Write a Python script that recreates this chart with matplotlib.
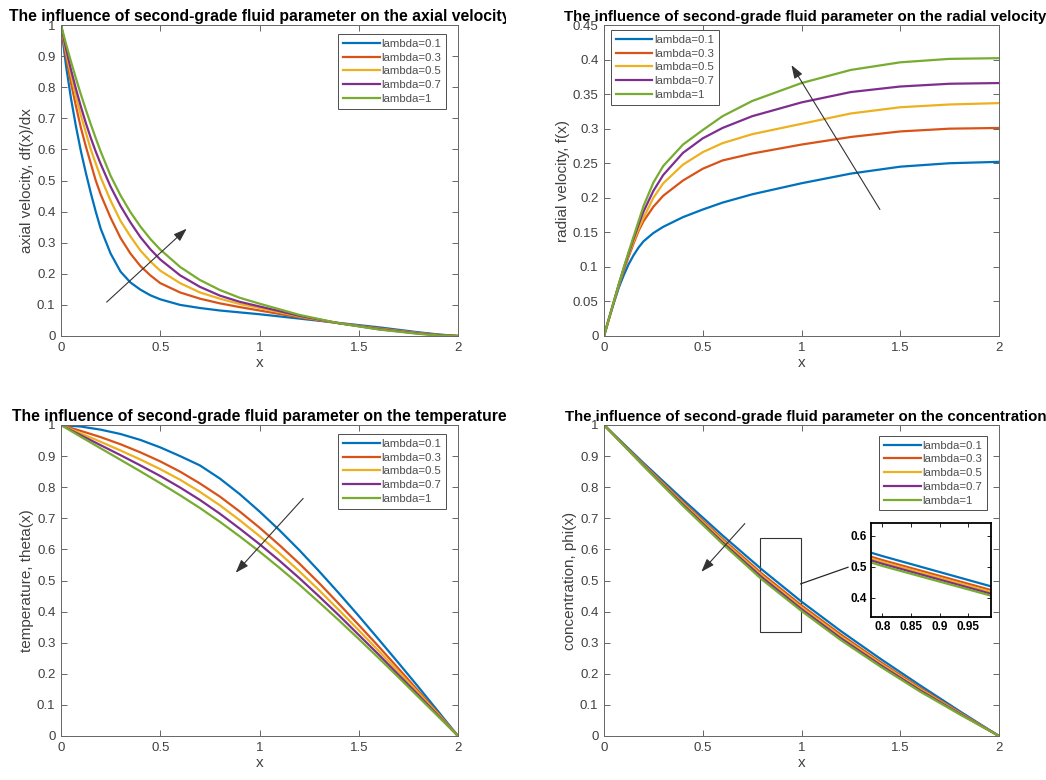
import matplotlib
matplotlib.use("Agg")
import matplotlib.pyplot as plt
from matplotlib.ticker import FuncFormatter
from matplotlib.transforms import Bbox, TransformedBbox
from matplotlib.patches import Rectangle, ConnectionPatch

plt.rcParams['font.family'] = ['Liberation Sans', 'DejaVu Sans']

labels = ['lambda=0.1', 'lambda=0.3', 'lambda=0.5', 'lambda=0.7', 'lambda=1']
colors = ['#0072BD', '#D95319', '#EDB120', '#7E2F8E', '#77AC30']

# axial velocity df/dx
x_ax = [0, 0.025, 0.05, 0.075, 0.1, 0.125, 0.15, 0.175, 0.2, 0.25, 0.3, 0.35, 0.4, 0.45, 0.5,
        0.6, 0.7, 0.8, 0.9, 1.0, 1.2, 1.4, 1.6, 1.8, 1.9, 2.0]
axial = [
    [1.0, 0.87, 0.765, 0.675, 0.595, 0.525, 0.46, 0.4, 0.345, 0.265, 0.207, 0.172, 0.149, 0.131, 0.118,
     0.1, 0.09, 0.082, 0.076, 0.07, 0.056, 0.042, 0.028, 0.012, 0.005, 0.0],
    [1.0, 0.9, 0.815, 0.74, 0.67, 0.61, 0.555, 0.5, 0.455, 0.38, 0.315, 0.265, 0.225, 0.195, 0.17,
     0.14, 0.12, 0.105, 0.093, 0.082, 0.06, 0.041, 0.025, 0.01, 0.004, 0.0],
    [1.0, 0.915, 0.84, 0.77, 0.71, 0.655, 0.6, 0.555, 0.51, 0.435, 0.37, 0.32, 0.275, 0.24, 0.21,
     0.17, 0.14, 0.12, 0.103, 0.09, 0.063, 0.041, 0.023, 0.009, 0.003, 0.0],
    [1.0, 0.925, 0.857, 0.795, 0.738, 0.685, 0.637, 0.593, 0.553, 0.48, 0.418, 0.365, 0.318, 0.279, 0.246,
     0.195, 0.158, 0.13, 0.11, 0.095, 0.065, 0.041, 0.022, 0.008, 0.003, 0.0],
    [1.0, 0.94, 0.883, 0.829, 0.777, 0.728, 0.681, 0.636, 0.593, 0.515, 0.452, 0.398, 0.352, 0.312, 0.278,
     0.222, 0.18, 0.148, 0.123, 0.104, 0.068, 0.041, 0.021, 0.007, 0.002, 0.0],
]

# radial velocity f
x_rad = [0, 0.025, 0.05, 0.075, 0.1, 0.125, 0.15, 0.175, 0.2, 0.25, 0.3, 0.4, 0.5, 0.6, 0.75,
         1.0, 1.25, 1.5, 1.75, 2.0]
radial = [
    [0, 0.025, 0.048, 0.07, 0.088, 0.104, 0.117, 0.128, 0.137, 0.149, 0.158, 0.172, 0.183, 0.193, 0.205,
     0.221, 0.235, 0.245, 0.25, 0.252],
    [0, 0.025, 0.049, 0.073, 0.095, 0.115, 0.134, 0.152, 0.166, 0.187, 0.203, 0.225, 0.242, 0.254, 0.264,
     0.277, 0.288, 0.296, 0.3, 0.301],
    [0, 0.025, 0.05, 0.074, 0.097, 0.118, 0.137, 0.155, 0.171, 0.2, 0.221, 0.248, 0.266, 0.279, 0.292,
     0.307, 0.322, 0.331, 0.335, 0.337],
    [0, 0.025, 0.05, 0.075, 0.098, 0.12, 0.141, 0.161, 0.18, 0.21, 0.233, 0.265, 0.286, 0.301, 0.318,
     0.338, 0.353, 0.361, 0.365, 0.366],
    [0, 0.025, 0.05, 0.075, 0.099, 0.122, 0.144, 0.166, 0.188, 0.222, 0.246, 0.277, 0.298, 0.318, 0.34,
     0.366, 0.385, 0.396, 0.401, 0.402],
]

# temperature theta
x_tmp = [0, 0.1, 0.2, 0.3, 0.4, 0.5, 0.6, 0.7, 0.8, 0.9, 1.0, 1.1, 1.2, 1.3, 1.4, 1.5, 1.6, 1.7, 1.8, 1.9, 2.0]
temperature = [
    [1.0, 0.995, 0.985, 0.971, 0.952, 0.928, 0.9, 0.87, 0.828, 0.778, 0.722, 0.662, 0.598, 0.53, 0.459,
     0.386, 0.311, 0.235, 0.158, 0.079, 0.0],
    [1.0, 0.981, 0.961, 0.938, 0.912, 0.883, 0.85, 0.812, 0.77, 0.722, 0.67, 0.614, 0.555, 0.492, 0.425,
     0.357, 0.288, 0.217, 0.145, 0.073, 0.0],
    [1.0, 0.973, 0.946, 0.918, 0.889, 0.858, 0.824, 0.785, 0.742, 0.694, 0.643, 0.588, 0.53, 0.469, 0.405,
     0.34, 0.274, 0.207, 0.139, 0.07, 0.0],
    [1.0, 0.967, 0.935, 0.903, 0.87, 0.836, 0.799, 0.759, 0.715, 0.667, 0.617, 0.564, 0.508, 0.449, 0.388,
     0.325, 0.262, 0.197, 0.132, 0.066, 0.0],
    [1.0, 0.962, 0.925, 0.888, 0.851, 0.813, 0.774, 0.733, 0.689, 0.642, 0.593, 0.541, 0.487, 0.43, 0.372,
     0.312, 0.251, 0.189, 0.126, 0.063, 0.0],
]

# concentration phi
x_con = [0, 0.2, 0.4, 0.6, 0.8, 1.0, 1.2, 1.4, 1.6, 1.8, 2.0]
concentration = [
    [1.0, 0.878, 0.76, 0.645, 0.535, 0.432, 0.337, 0.248, 0.163, 0.08, 0.0],
    [1.0, 0.874, 0.752, 0.634, 0.522, 0.42, 0.326, 0.238, 0.155, 0.076, 0.0],
    [1.0, 0.872, 0.748, 0.629, 0.516, 0.414, 0.32, 0.233, 0.151, 0.074, 0.0],
    [1.0, 0.87, 0.744, 0.623, 0.51, 0.408, 0.314, 0.228, 0.147, 0.072, 0.0],
    [1.0, 0.868, 0.74, 0.618, 0.503, 0.402, 0.308, 0.223, 0.143, 0.07, 0.0],
]

W, H = 1046, 780
fig = plt.figure(figsize=(W / 100, H / 100), dpi=100)


def px_axes(left, top, right, bottom):
    return fig.add_axes([left / W, 1 - bottom / H, (right - left) / W, (bottom - top) / H])


fmt = FuncFormatter(lambda v, p: '%g' % round(v, 4))


def style(ax, ylim, yticks, ylabel, title, clip_right, tsize=11.3, tx=0.5):
    ax.set_xlim(0, 2)
    ax.set_ylim(*ylim)
    ax.set_xticks([0, 0.5, 1, 1.5, 2])
    ax.set_yticks(yticks)
    ax.xaxis.set_major_formatter(fmt)
    ax.yaxis.set_major_formatter(fmt)
    ax.tick_params(direction='in', top=True, right=True, length=4, width=0.6,
                   color='0.3', labelcolor='0.25', labelsize=9.5, pad=4)
    for s in ax.spines.values():
        s.set_color('0.4')
        s.set_linewidth(0.7)
    ax.set_xlabel('x', fontsize=11, color='0.25', labelpad=2)
    ax.set_ylabel(ylabel, fontsize=11, color='0.25', labelpad=2)
    t = ax.set_title(title, fontsize=tsize, fontweight='bold', pad=3, x=tx)
    t.set_clip_box(TransformedBbox(Bbox.from_extents(0, 0, clip_right / W, 1), fig.transFigure))
    t.set_clip_on(True)


def curves(ax, xs, series):
    for ys, c, lab in zip(series, colors, labels):
        ax.plot(xs, ys, color=c, lw=1.6, label=lab)


def legend(ax, loc, anchor):
    lg = ax.legend(loc=loc, bbox_to_anchor=anchor, fontsize=8.2, handlelength=3.2, handletextpad=0.15,
                   labelspacing=0.33, borderpad=0.42, borderaxespad=0,
                   fancybox=False, framealpha=1)
    lg.get_frame().set_edgecolor('0.3')
    lg.get_frame().set_linewidth(0.7)
    for t in lg.get_texts():
        t.set_color('0.3')


def arrow(ax, tail, head):
    ax.annotate('', xy=head, xytext=tail,
                arrowprops=dict(arrowstyle='-|>,head_length=0.8,head_width=0.28',
                                color='0.2', lw=0.8, shrinkA=0, shrinkB=0))


title_base = 'The influence of second-grade fluid parameter on the '

ax1 = px_axes(61, 25, 458, 336)
curves(ax1, x_ax, axial)
style(ax1, (0, 1), [0, 0.1, 0.2, 0.3, 0.4, 0.5, 0.6, 0.7, 0.8, 0.9, 1],
      'axial velocity, df(x)/dx', title_base + 'axial velocity', 506)
legend(ax1, 'upper right', (0.9698, 0.971))
arrow(ax1, (0.23, 0.109), (0.633, 0.345))

ax2 = px_axes(604, 25, 999, 336)
curves(ax2, x_rad, radial)
style(ax2, (0, 0.45), [0, 0.05, 0.1, 0.15, 0.2, 0.25, 0.3, 0.35, 0.4, 0.45],
      'radial velocity, f(x)', title_base + 'radial velocity', W, tsize=10.8, tx=0.51)
legend(ax2, 'upper left', (0.0177, 0.984))
arrow(ax2, (1.397, 0.183), (0.949, 0.392))

ax3 = px_axes(61, 425, 458, 736)
curves(ax3, x_tmp, temperature)
style(ax3, (0, 1), [0, 0.1, 0.2, 0.3, 0.4, 0.5, 0.6, 0.7, 0.8, 0.9, 1],
      'temperature, theta(x)', title_base + 'temperature', 506)
legend(ax3, 'upper right', (0.9698, 0.971))
arrow(ax3, (1.22, 0.764), (0.88, 0.525))

ax4 = px_axes(604, 425, 999, 736)
curves(ax4, x_con, concentration)
style(ax4, (0, 1), [0, 0.1, 0.2, 0.3, 0.4, 0.5, 0.6, 0.7, 0.8, 0.9, 1],
      'concentration, phi(x)', title_base + 'concentration', W, tsize=10.8, tx=0.51)
legend(ax4, 'upper right', (0.9696, 0.965))
arrow(ax4, (0.713, 0.683), (0.493, 0.528))

# zoom box and inset
ax4.add_patch(Rectangle((0.79, 0.335), 0.205, 0.301, fill=False, ec='0.2', lw=0.8))
ins = px_axes(871, 523, 991, 617)
curves(ins, x_con, concentration)
ins.set_xlim(0.78, 0.99)
ins.set_ylim(0.338, 0.642)
ins.set_xticks([0.8, 0.85, 0.9, 0.95])
ins.set_yticks([0.4, 0.5, 0.6])
ins.xaxis.set_major_formatter(fmt)
ins.yaxis.set_major_formatter(fmt)
ins.tick_params(direction='in', top=True, right=True, length=3, width=0.6, labelsize=8.5, pad=3)
for lab in ins.get_xticklabels() + ins.get_yticklabels():
    lab.set_fontweight('bold')
for s in ins.spines.values():
    s.set_linewidth(1.3)
con = ConnectionPatch(xyA=(0.995, 0.489), coordsA=ax4.transData,
                      xyB=(-0.19, 0.53), coordsB=ins.transAxes, color='0.15', lw=0.9)
fig.add_artist(con)

fig.savefig('out.png', dpi=100)
